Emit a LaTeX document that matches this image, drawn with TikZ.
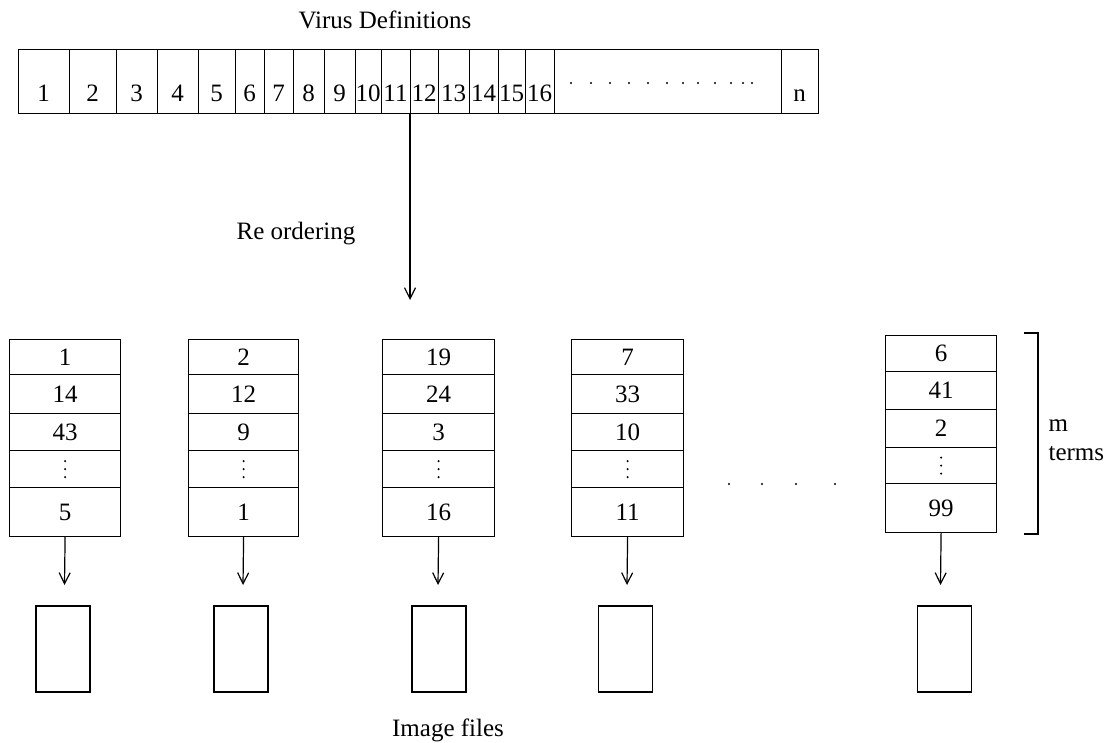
\documentclass[tikz,border=0pt]{standalone}
\usepackage{fontspec}
\setmainfont{Liberation Serif}
\usetikzlibrary{arrows.meta}
\begin{document}
\begin{tikzpicture}[x=1pt,y=-1pt,line width=1.2pt,
  font=\fontsize{25}{30}\selectfont,
  cell/.style={draw,rectangle,inner sep=0pt,anchor=north west},
  lab/.style={inner sep=0pt,anchor=base},
  arr/.style={-{Straight Barb[length=11pt,width=11pt,line width=1.2pt]}},
  dot/.style={circle,fill,inner sep=0pt,minimum size=2.4pt}]
\useasboundingbox (0,0) rectangle (1117,743);
% title
\node[lab] (title) at (385,29) {Virus Definitions};
% top bar
\foreach \l/\r/\t [count=\i] in {18/69/1,69/116/2,116/157/3,157/198/4,198/235/5,235/264/6,264/293/7,293/324/8,324/355/9,355/381/10,381/410/11,410/438/12,438/469/13,469/498/14,498/525/15,525/554/16,554/781/{},781/818/n}{
  \node[cell,minimum width={\r-\l},minimum height=64] (t\i) at (\l,49) {};
  \node[lab] (tl\i) at ({(\l+\r)/2},102) {\t};
}
\foreach \x [count=\k] in {571,591,610,629,648,667,683,698,715,731,743,752}
  \node[dot] (hd\k) at (\x,83) {};
% reordering arrow
\coordinate (rtip) at (410,300);
\draw[arr] (t12.south west) -- (rtip);
\node[lab] (reo) at (296,240) {Re ordering};
% columns
\foreach \l/\r/\a/\b/\c/\e [count=\j] in {9/120/1/14/43/5,188/298/2/12/9/1,382/494/19/24/3/16,571/683/7/33/10/11}{
  \node[cell,minimum width={\r-\l},minimum height=35] (c\j r1) at (\l,339) {\a};
  \node[cell,minimum width={\r-\l},minimum height=39] (c\j r2) at (\l,374) {\b};
  \node[cell,minimum width={\r-\l},minimum height=37] (c\j r3) at (\l,413) {\c};
  \node[cell,minimum width={\r-\l},minimum height=37] (c\j r4) at (\l,450) {};
  \node[cell,minimum width={\r-\l},minimum height=49] (c\j r5) at (\l,487) {\e};
}
\node[cell,minimum width=111,minimum height=36] (c5r1) at (885,335) {6};
\node[cell,minimum width=111,minimum height=38] (c5r2) at (885,371) {41};
\node[cell,minimum width=111,minimum height=38] (c5r3) at (885,409) {2};
\node[cell,minimum width=111,minimum height=36] (c5r4) at (885,447) {};
\node[cell,minimum width=111,minimum height=49] (c5r5) at (885,483) {99};
\foreach \j in {1,...,5}{
  \node[dot] (vd\j a) at ([yshift=8pt]c\j r4.center) {};
  \node[dot] (vd\j b) at (c\j r4.center) {};
  \node[dot] (vd\j c) at ([yshift=-8pt]c\j r4.center) {};
}
% horizontal dots between columns
\foreach \x [count=\k] in {729,762,796,835}
  \node[dot] (md\k) at (\x,484) {};
% bracket
\coordinate (bt) at (1024,333);
\coordinate (bb) at (1024,534);
\draw (bt) -- (1038,333) -- (1038,534) -- (bb);
\node[lab,anchor=base west] (mlab) at (1048,431) {m};
\node[lab,anchor=base west] (tlab) at (1048,460) {terms};
% arrows to image files
\foreach \x/\ix [count=\j] in {64.5/63,243/241,438/439,627/625.5,940.5/944.5}{
  \coordinate (a\j) at (\x,585);
  \draw[arr] (c\j r5.south) -- (a\j);
  \node[cell,anchor=center,minimum width=54,minimum height=86] (img\j) at (\ix,649) {};
}
\node[lab] (imf) at (448,736) {Image files};
\end{tikzpicture}
\end{document}
